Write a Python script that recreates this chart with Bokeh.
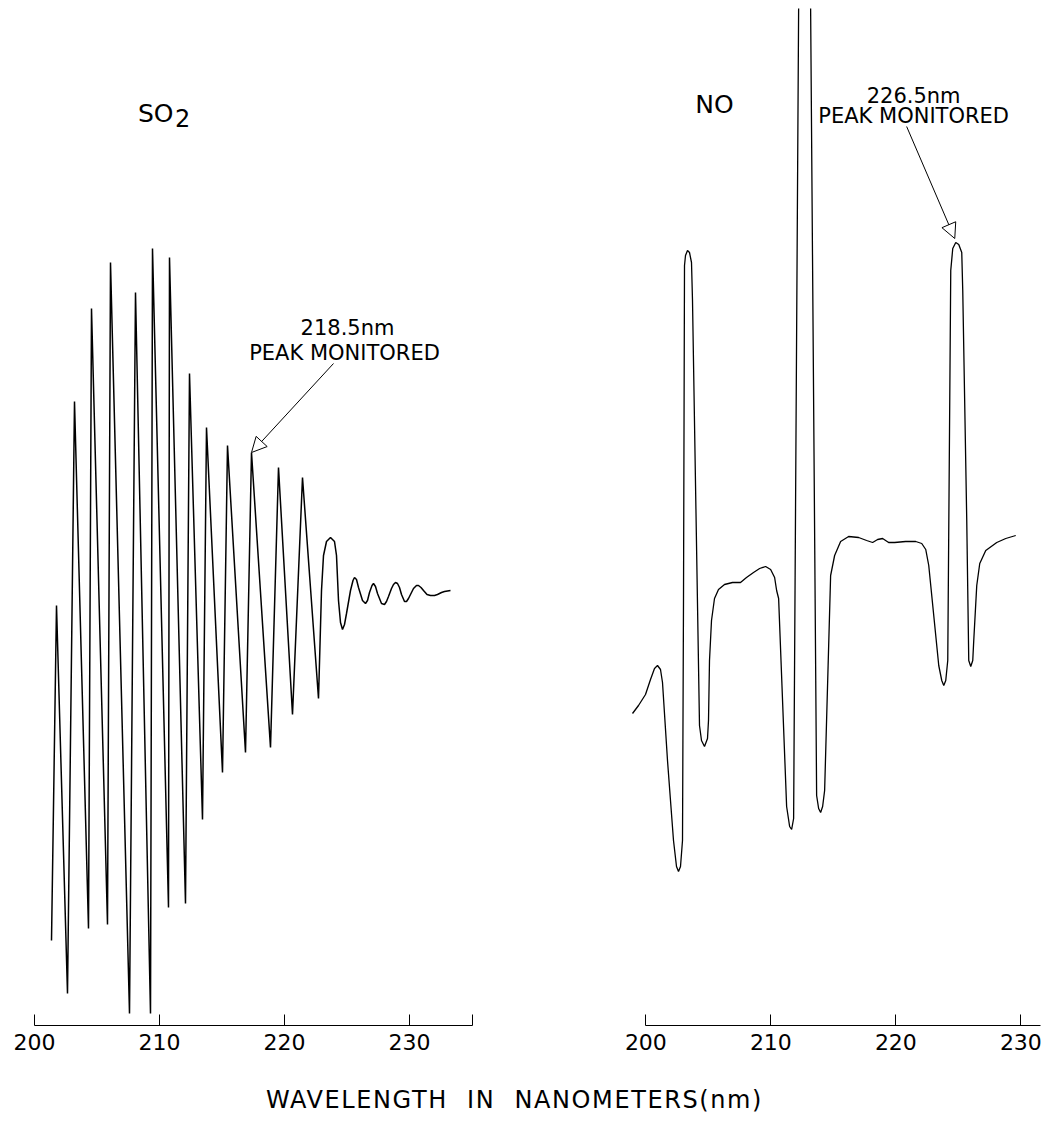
from bokeh.plotting import figure
from bokeh.models import Range1d, FixedTicker, Arrow, NormalHead, Div
from bokeh.layouts import row, column
from bokeh.core.properties import value
from bokeh.embed import file_html
from bokeh.resources import INLINE

# ---------------- data (wavelength nm, relative absorbance) ----------------
so2_nm = [201.36, 201.76, 202.64, 203.20, 204.32, 204.56, 205.84, 206.08, 207.60, 208.08,
          209.28, 209.44, 210.72, 210.80, 212.08, 212.40, 213.44, 213.76, 215.04, 215.44,
          216.88, 217.36, 218.88, 219.52, 220.64, 221.44, 222.72, 222.96, 223.12, 223.36,
          223.68, 224.00, 224.16, 224.32, 224.48, 224.64, 224.80, 224.96, 225.28, 225.48,
          225.60, 225.76, 225.92, 226.24, 226.48, 226.64, 226.80, 227.00, 227.12, 227.28,
          227.44, 227.76, 228.00, 228.16, 228.32, 228.56, 228.72, 228.88, 229.04, 229.20,
          229.36, 229.60, 229.76, 229.92, 230.16, 230.32, 230.56, 230.72, 230.92, 231.12,
          231.40, 231.68, 232.00, 232.24, 232.56, 232.80, 233.28]
so2_abs = [8.5, 42.0, 3.2, 62.4, 9.7, 71.7, 10.1, 76.3, 1.2, 73.3,
           1.2, 77.7, 11.8, 76.8, 12.2, 65.2, 20.6, 59.8, 25.3, 58.0,
           27.3, 57.3, 27.8, 55.8, 31.1, 54.8, 32.7, 43.5, 47.0, 48.4,
           48.8, 48.4, 47.0, 42.5, 40.3, 39.6, 40.1, 41.2, 43.5, 44.5,
           44.8, 44.6, 43.8, 42.5, 42.2, 42.5, 43.3, 44.0, 44.2, 43.9,
           43.2, 42.2, 42.1, 42.4, 42.9, 43.7, 44.1, 44.3, 44.2, 43.8,
           43.1, 42.4, 42.4, 42.7, 43.3, 43.7, 44.0, 44.0, 43.8, 43.5,
           43.1, 43.0, 43.0, 43.1, 43.3, 43.4, 43.5]

no_nm = [198.93, 199.41, 199.97, 200.37, 200.69, 200.93, 201.17, 201.33, 201.73, 202.21,
         202.45, 202.61, 202.77, 202.93, 203.01, 203.09, 203.17, 203.33, 203.49, 203.65,
         203.73, 204.29, 204.45, 204.69, 204.93, 205.01, 205.09, 205.25, 205.49, 205.81,
         206.29, 206.93, 207.57, 208.05, 208.61, 209.10, 209.58, 209.98, 210.30, 210.46,
         210.62, 211.26, 211.50, 211.66, 211.82, 212.22, 212.38, 212.70, 213.02, 213.18,
         213.66, 213.82, 213.98, 214.14, 214.30, 214.78, 215.10, 215.58, 216.22, 217.02,
         217.66, 218.14, 218.54, 218.94, 219.42, 219.90, 220.78, 221.59, 222.07, 222.39,
         222.63, 223.43, 223.67, 223.83, 223.99, 224.15, 224.39, 224.55, 224.79, 225.03,
         225.27, 225.35, 225.67, 225.83, 225.99, 226.15, 226.23, 226.47, 226.71, 227.19,
         228.07, 228.79, 229.59]
no_abs = [31.2, 32.0, 33.1, 34.6, 35.7, 36.0, 35.6, 34.3, 26.5, 18.5,
          15.9, 15.4, 15.9, 18.5, 42.5, 76.0, 77.0, 77.5, 77.3, 76.3,
          72.5, 30.0, 28.5, 27.9, 28.7, 30.5, 36.5, 40.5, 42.7, 43.6,
          44.1, 44.3, 44.3, 44.8, 45.3, 45.7, 45.9, 45.6, 44.8, 43.5,
          42.7, 21.9, 19.9, 19.6, 20.7, 101.7, 106.5, 108.5, 106.5, 101.7,
          23.0, 21.7, 21.3, 21.9, 23.5, 45.0, 47.0, 48.4, 48.9, 48.8,
          48.5, 48.3, 48.6, 48.7, 48.3, 48.3, 48.4, 48.4, 48.2, 47.6,
          46.0, 36.0, 34.5, 34.0, 34.5, 36.5, 75.5, 77.7, 78.3, 78.1,
          77.3, 73.5, 50.5, 36.5, 35.9, 36.5, 38.5, 44.0, 46.2, 47.5,
          48.3, 48.7, 49.0]

left_ticks = [200, 210, 220, 230, 235]
right_ticks = [200, 210, 220, 230]
left_axis_bounds = (200, 235)
right_axis_bounds = (200, 231.6)

FONT = "DejaVu Sans"


def make_fig(x_start, x_end, fw):
    p = figure(frame_width=fw, frame_height=1017, x_range=Range1d(x_start, x_end),
               y_range=Range1d(0, 101.7), output_backend="svg", toolbar_location=None,
               y_axis_location=None, min_border_left=0, min_border_right=0,
               min_border_top=8, min_border_bottom=50)
    p.outline_line_color = None
    p.xgrid.visible = False
    p.ygrid.visible = False
    ax = p.xaxis[0]
    ax.axis_line_color = "black"
    ax.axis_line_width = 1
    ax.major_tick_in = 11
    ax.major_tick_out = 0
    ax.major_tick_line_color = "black"
    ax.minor_tick_line_color = None
    ax.major_label_text_font = FONT
    ax.major_label_text_font_size = "22px"
    ax.major_label_text_color = "black"
    ax.major_label_standoff = 8
    return p


# ---------------- left: SO2 ----------------
p1 = make_fig(197.28, 242.08, 560)
p1.xaxis[0].ticker = FixedTicker(ticks=left_ticks)
p1.xaxis[0].bounds = left_axis_bounds
p1.xaxis[0].major_label_overrides = {235: ""}
p1.line(so2_nm, so2_abs, line_color="black", line_width=1.5)

p1.text(x=[209.7], y=[91.2], text=["SO"], text_font=value(FONT), text_font_size="25px",
        text_align="center", text_baseline="middle", text_color="black")
p1.text(x=[211.85], y=[90.8], text=["2"], text_font=value(FONT), text_font_size="24px",
        text_align="center", text_baseline="middle", text_color="black")
p1.text(x=[225.04], y=[69.8], text=["218.5nm"], text_font=value(FONT), text_font_size="21px",
        text_align="center", text_baseline="middle", text_color="black")
p1.text(x=[224.8], y=[67.3], text=["PEAK MONITORED"], text_font=value(FONT),
        text_font_size="21px", text_align="center", text_baseline="middle", text_color="black")
p1.add_layout(Arrow(end=NormalHead(size=15, fill_color="white", line_color="black", line_width=1),
                    x_start=223.92, y_start=66.2, x_end=217.36, y_end=57.3,
                    line_color="black", line_width=1))

# ---------------- right: NO ----------------
p2 = make_fig(193.17, 232.29, 489)
p2.xaxis[0].ticker = FixedTicker(ticks=right_ticks)
p2.xaxis[0].bounds = right_axis_bounds
p2.line(no_nm, no_abs, line_color="black", line_width=1.3)

p2.text(x=[205.49], y=[92.1], text=["NO"], text_font=value(FONT), text_font_size="25px",
        text_align="center", text_baseline="middle", text_color="black")
p2.text(x=[221.42], y=[93.0], text=["226.5nm"], text_font=value(FONT), text_font_size="21px",
        text_align="center", text_baseline="middle", text_color="black")
p2.text(x=[221.42], y=[91.0], text=["PEAK MONITORED"], text_font=value(FONT),
        text_font_size="21px", text_align="center", text_baseline="middle", text_color="black")
p2.add_layout(Arrow(end=NormalHead(size=15, fill_color="white", line_color="black", line_width=1),
                    x_start=220.86, y_start=89.9, x_end=224.71, y_end=78.7,
                    line_color="black", line_width=1))

label = Div(text="WAVELENGTH IN NANOMETERS(nm)", width=1049, height=50,
            styles={"font-family": FONT, "font-size": "24px", "text-align": "center",
                    "color": "black", "letter-spacing": "1.6px", "word-spacing": "10px",
                    "width": "1049px", "padding-right": "30px", "padding-top": "3px",
                    "box-sizing": "border-box"})

layout = column(row(p1, p2, spacing=0), label, spacing=0)

open("out.html", "w").write(file_html(layout, INLINE))
